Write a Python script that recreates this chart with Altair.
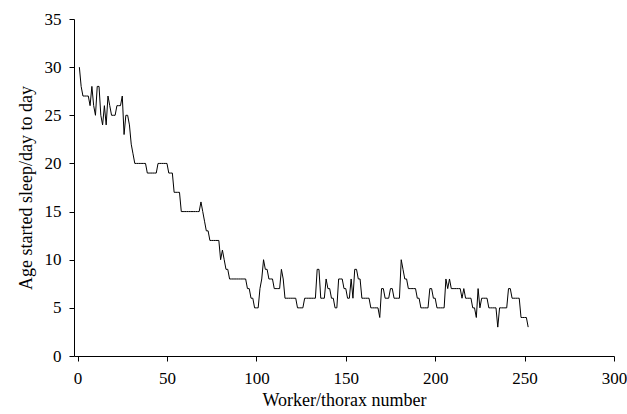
import altair as alt
import pandas as pd

worker = list(range(1, 253))
age = [
    30, 28, 27, 27, 27, 27, 26, 28, 26, 25,
    28, 28, 25, 24, 26, 24, 27, 26, 25, 25,
    25, 26, 26, 26, 27, 23, 25, 25, 24, 22,
    21, 20, 20, 20, 20, 20, 20, 20, 19, 19,
    19, 19, 19, 19, 20, 20, 20, 20, 20, 20,
    19, 19, 19, 17, 17, 17, 17, 15, 15, 15,
    15, 15, 15, 15, 15, 15, 15, 15, 16, 15,
    14, 13, 13, 12, 12, 12, 12, 12, 12, 10,
    11, 10, 9, 9, 8, 8, 8, 8, 8, 8,
    8, 8, 8, 8, 7, 7, 6, 6, 5, 5,
    5, 7, 8, 10, 9, 9, 8, 8, 8, 7,
    7, 7, 7, 9, 8, 6, 6, 6, 6, 6,
    6, 6, 5, 5, 5, 5, 6, 6, 6, 6,
    6, 6, 6, 9, 9, 6, 6, 6, 8, 7,
    7, 6, 6, 5, 5, 8, 8, 8, 7, 7,
    6, 6, 8, 6, 9, 9, 8, 8, 6, 6,
    6, 6, 6, 5, 5, 5, 5, 5, 4, 7,
    7, 6, 6, 6, 7, 7, 6, 6, 6, 6,
    10, 9, 8, 8, 7, 7, 7, 7, 7, 6,
    6, 5, 5, 5, 5, 5, 7, 7, 6, 6,
    5, 5, 5, 5, 5, 8, 7, 8, 7, 7,
    7, 7, 7, 7, 6, 7, 6, 6, 6, 6,
    5, 5, 4, 7, 5, 6, 6, 6, 6, 5,
    5, 5, 5, 5, 3, 5, 5, 5, 5, 5,
    7, 7, 6, 6, 6, 6, 6, 4, 4, 4,
    4, 3,
]

x_ticks = [0, 50, 100, 150, 200, 250, 300]
y_ticks = [0, 5, 10, 15, 20, 25, 30, 35]

df = pd.DataFrame({"worker": worker, "age": age})

FONT = "Liberation Serif"

chart = (
    alt.Chart(df)
    .mark_line(color="black", strokeWidth=1)
    .encode(
        x=alt.X(
            "worker:Q",
            scale=alt.Scale(domain=[-2, 300], nice=False, zero=False),
            axis=alt.Axis(
                title="Worker/thorax number",
                values=x_ticks,
                grid=False,
                labelFlush=False,
                labelPadding=9,
                titlePadding=5,
            ),
        ),
        y=alt.Y(
            "age:Q",
            scale=alt.Scale(domain=[0, 35], nice=False),
            axis=alt.Axis(
                title="Age started sleep/day to day",
                values=y_ticks,
                grid=False,
                labelFlush=False,
                labelPadding=8,
                titlePadding=9,
            ),
        ),
    )
    .properties(
        width=540,
        height=337,
        autosize=alt.AutoSizeParams(type="none"),
        padding={"left": 74, "top": 19, "right": 13, "bottom": 58},
    )
    .configure_view(stroke=None)
    .configure_axis(
        domainColor="black",
        domainWidth=1,
        tickColor="black",
        tickSize=5,
        tickWidth=1,
        labelFont=FONT,
        labelFontSize=17,
        labelColor="black",
        titleFont=FONT,
        titleFontSize=18,
        titleFontWeight="normal",
        titleColor="black",
    )
)

chart.save("out.html", embed_options={"renderer": "svg", "actions": False})
